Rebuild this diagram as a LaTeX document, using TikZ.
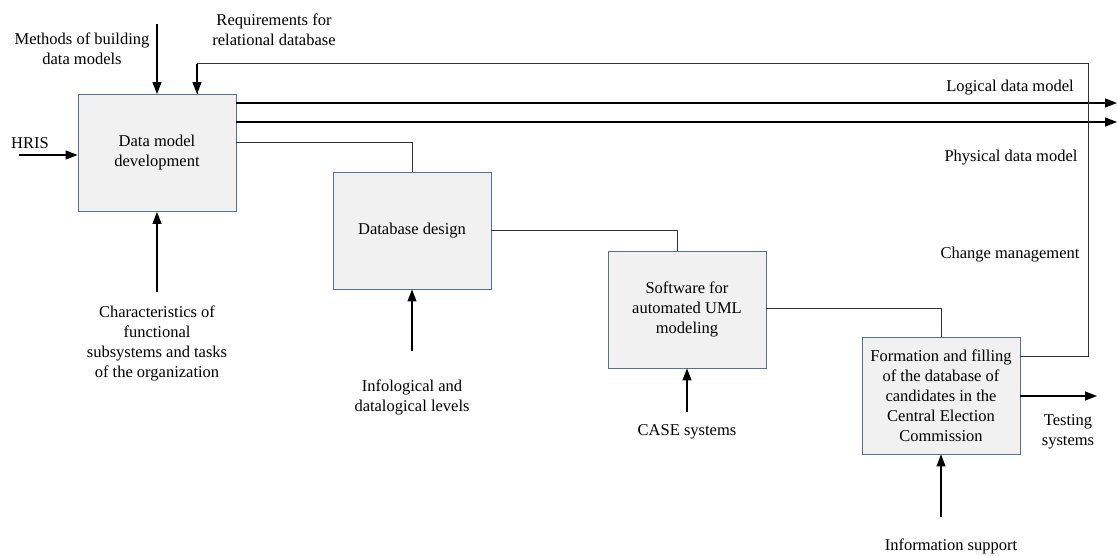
\documentclass[tikz,border=0pt]{standalone}
\usepackage{fontspec}
\setmainfont{Liberation Serif}
\usetikzlibrary{arrows.meta}
\definecolor{boxedge}{RGB}{84,112,150}
\definecolor{boxfill}{RGB}{241,241,241}
\begin{document}
\begin{tikzpicture}[x=1pt,y=-1pt,
  font=\fontsize{16.5pt}{20pt}\selectfont,
  block/.style={draw=boxedge, fill=boxfill, line width=0.9pt,
    minimum width=158pt, minimum height=117pt, inner sep=0pt, align=center},
  lbl/.style={align=center, inner sep=0pt},
  link/.style={draw=black!80, line width=1pt},
  flow/.style={draw=black, line width=1.1pt, -{Triangle[length=12pt,width=9pt]}}]
  \useasboundingbox (0,0) rectangle (1117,556);

  % activity boxes
  \node[block] (dev)  at (157,153)   {Data model\\development};
  \node[block] (dbd)  at (412,230.5) {Database design};
  \node[block] (soft) at (687,309.5) {Software for\\automated UML\\modeling};
  \node[block] (form) at (941,395.5) {Formation and filling\\of the database of\\candidates in the\\Central Election\\Commission};

  % free ends of the arrows
  \coordinate (hrisIn)  at (19,155);
  \coordinate (methIn)  at (157,24);
  \coordinate (charIn)  at (157,292);
  \coordinate (infoIn)  at (412,351);
  \coordinate (caseIn)  at (687,412);
  \coordinate (supIn)   at (941,517);
  \coordinate (logOut)  at (1117,103);
  \coordinate (physOut) at (1117,122);
  \coordinate (testOut) at (1097,396);
  \coordinate (fbRight) at (1088,64);

  % labels
  \node[lbl] (hris) at (30,143) {HRIS};
  \node[lbl] (meth) at (82,49) {Methods of building\\data models};
  \node[lbl] (req)  at (274,30) {Requirements for\\relational database};
  \node[lbl] (logl) at (1010,88) {Logical data model};
  \node[lbl] (phys) at (1011,158) {Physical data model};
  \node[lbl] (chg)  at (1010,255) {Change management};
  \node[lbl] (chr)  at (157,343) {Characteristics of\\functional\\subsystems and tasks\\of the organization};
  \node[lbl] (inf)  at (412,397) {Infological and\\datalogical levels};
  \node[lbl] (cse)  at (687,432) {CASE systems};
  \node[lbl] (tst)  at (1068,432) {Testing\\systems};
  \node[lbl] (sup)  at (951,546) {Information support};

  % inputs and controls
  \draw[flow] (hrisIn) -- (dev.west |- hrisIn);
  \draw[flow] (methIn) -- (dev.north);
  \draw[flow] (charIn) -- (dev.south);
  \draw[flow] (infoIn) -- (dbd.south);
  \draw[flow] (caseIn) -- (soft.south);
  \draw[flow] (supIn)  -- (form.south);

  % outputs
  \draw[flow] (dev.east |- logOut) -- (logOut);
  \draw[flow] (dev.east |- physOut) -- (physOut);
  \draw[flow] (form.east |- testOut) -- (testOut);

  % links between the stages
  \draw[link] ([yshift=10pt]dev.east) -| (dbd.north);
  \draw[link] (dbd.east) -| ([xshift=-10pt]soft.north);
  \draw[link] ([yshift=1.5pt]soft.east) -| (form.north);

  % feedback loop back to the first stage
  \draw[link] ([yshift=39.5pt]form.east) -| (fbRight)
    -| ([xshift=40pt]dev.north);
  \draw[flow] ([xshift=40pt,yshift=30pt]dev.north) -- ([xshift=40pt]dev.north);
\end{tikzpicture}
\end{document}
